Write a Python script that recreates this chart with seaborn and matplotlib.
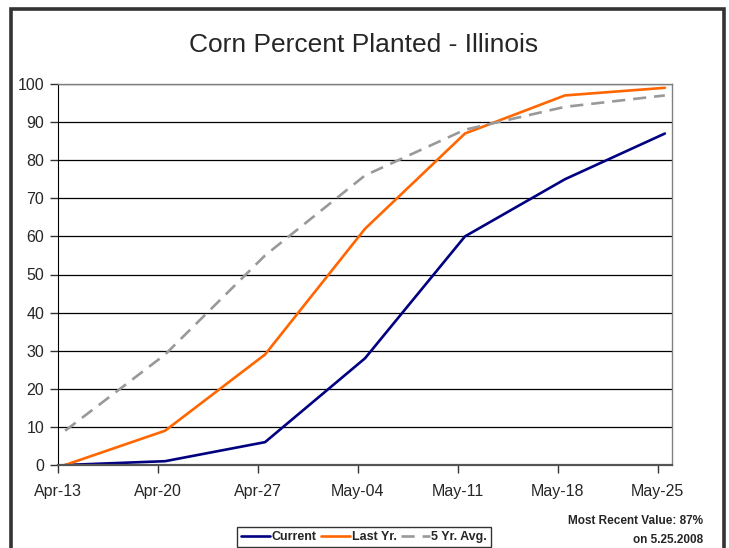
import numpy as np
import pandas as pd
import matplotlib
matplotlib.use("Agg")
import matplotlib.pyplot as plt
import seaborn as sns
from matplotlib.patches import Rectangle
from matplotlib import font_manager

sns.set_style("white")
names = {f.name for f in font_manager.fontManager.ttflist}
base = "Liberation Sans Narrow" if "Liberation Sans Narrow" in names else "Liberation Sans"
plt.rcParams["font.family"] = [base, "DejaVu Sans"]

# Weekly progress, percent of corn acreage planted
week_labels = ["Apr-13", "Apr-20", "Apr-27", "May-04", "May-11", "May-18", "May-25"]
current = [0, 1, 6, 28, 60, 75, 87]
last_year = [0, 9, 29, 62, 87, 97, 99]
five_yr_avg = [9, 29, 55, 76, 88, 94, 97]

# days since Apr-13 for each weekly report; points sit mid-day on a date axis
day_offsets = np.arange(len(week_labels)) * 7
x_pts = day_offsets + 0.5

df = pd.DataFrame({
    "day": np.tile(x_pts, 3),
    "pct": current + last_year + five_yr_avg,
    "series": ["Current"] * 7 + ["Last Yr."] * 7 + ["5 Yr. Avg."] * 7,
})

fig = plt.figure(figsize=(7.29, 5.48), dpi=100)
ax = fig.add_axes([58 / 729, 1 - 465 / 548, (672 - 58) / 729, (465 - 84) / 548])

palette = {"Current": "#000080", "Last Yr.": "#FF6600", "5 Yr. Avg.": "#999999"}
dashes = {"Current": "", "Last Yr.": "", "5 Yr. Avg.": (5, 3)}
sns.lineplot(data=df, x="day", y="pct", hue="series", style="series",
             palette=palette, dashes=dashes, linewidth=1.9, ax=ax, legend=False)

ax.set_xlim(0, 43)
ax.set_ylim(0, 100)
ax.set_xticks(day_offsets)
ax.set_xticklabels(week_labels)
ax.set_yticks(np.arange(0, 101, 10))
ax.set_xlabel("")
ax.set_ylabel("")
ax.yaxis.grid(True, color="#000000", linewidth=0.9)
ax.set_axisbelow(True)
ax.tick_params(axis="both", which="both", direction="out", length=6, width=1,
               color="#333333", labelsize=11.5, pad=4, left=True, bottom=True)
ax.tick_params(axis="x", pad=8)
for side in ["top", "right"]:
    ax.spines[side].set_color("#808080")
    ax.spines[side].set_linewidth(1)
ax.spines["left"].set_color("#000000")
ax.spines["bottom"].set_color("#555555")
ax.spines["bottom"].set_linewidth(1.6)

fig.text(364 / 729, 1 - 45 / 548, "Corn Percent Planted - Illinois",
         ha="center", va="center", fontsize=19)

handles = [plt.Line2D([], [], color=palette[k], linewidth=1.9,
                      linestyle=(0, dashes[k]) if dashes[k] else "-")
           for k in ["Current", "Last Yr.", "5 Yr. Avg."]]
leg = fig.legend(handles, ["Current", "Last Yr.", "5 Yr. Avg."], ncol=3,
                 loc="lower center", bbox_to_anchor=(364 / 729, 0.0),
                 frameon=True, fancybox=False, edgecolor="#000000",
                 prop={"weight": "bold", "size": 9}, handlelength=2.3,
                 handletextpad=0.15, columnspacing=0.35, borderpad=0.3,
                 borderaxespad=0.1)
leg.get_frame().set_linewidth(1.0)

fig.text(703 / 729, 1 - 521 / 548, "Most Recent Value: 87%", ha="right",
         va="center", fontsize=8.5, fontweight="bold")
fig.text(703 / 729, 1 - 540 / 548, "on 5.25.2008", ha="right",
         va="center", fontsize=8.5, fontweight="bold")

fig.patches.append(Rectangle((11 / 729, -0.05), (724 - 11) / 729, 1.05 - 9 / 548,
                             transform=fig.transFigure, fill=False,
                             edgecolor="#333333", linewidth=2.6))

fig.savefig("out.png", dpi=100)
